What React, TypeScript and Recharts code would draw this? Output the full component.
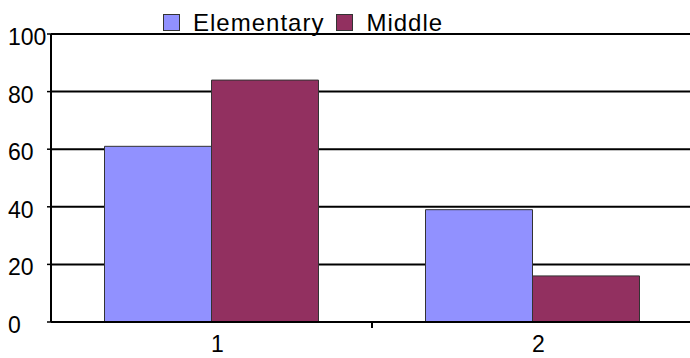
import { BarChart, Bar, XAxis, YAxis, CartesianGrid, Legend } from "recharts";

const categories = ["1", "2"];
const elementary = [61, 39];
const middle = [84, 16];
const yTicks = [0, 20, 40, 60, 80, 100];

const BLUE = "#9191ff";
const MAROON = "#923060";
const FONT = "'Liberation Sans', Arial, sans-serif";

const data = categories.map((c, i) => ({ name: c, Elementary: elementary[i], Middle: middle[i] }));

function YTick({ y, payload }: any) {
  return (
    <text x={8} y={y + 3} dominantBaseline="central" textAnchor="start" fontSize={23} fontFamily={FONT} fill="#000">
      {payload.value}
    </text>
  );
}

function XTick({ x, y, payload, index }: any) {
  const half = payload.offset ?? 160;
  const axisY = y - 8;
  return (
    <g>
      <text x={x + 6} y={axisY + 22} dominantBaseline="central" textAnchor="middle" fontSize={23} fontFamily={FONT} fill="#000">
        {payload.value}
      </text>
      {index < categories.length - 1 && (
        <line x1={x + half} x2={x + half} y1={axisY} y2={axisY + 6} stroke="#000" strokeWidth={2} />
      )}
    </g>
  );
}

function LegendBox({ payload }: any) {
  return (
    <div style={{ display: "flex", alignItems: "center", fontFamily: FONT, fontSize: 24, lineHeight: "24px", letterSpacing: 1, color: "#000" }}>
      {(payload || []).map((p: any) => (
        <span key={p.value} style={{ display: "inline-flex", alignItems: "center", marginRight: 12 }}>
          <span style={{ width: 15, height: 15, background: p.color, border: "1px solid #333", marginRight: 13, marginTop: -2 }} />
          {p.value}
        </span>
      ))}
    </div>
  );
}

export default function App() {
  return (
    <div style={{ position: "absolute", left: 0, top: 0, width: 690, height: 358, overflow: "hidden", background: "#fff" }}>
      <BarChart
        width={700}
        height={358}
        data={data}
        margin={{ top: 34, right: 7, bottom: 0, left: 0 }}
        barCategoryGap="16.67%"
        barGap={0}
      >
        <CartesianGrid vertical={false} stroke="#000" strokeWidth={2} />
        <XAxis
          dataKey="name"
          height={36}
          axisLine={{ stroke: "#000", strokeWidth: 2 }}
          tickLine={false}
          tickSize={6}
          tick={<XTick />}
        />
        <YAxis
          width={51}
          domain={[0, 100]}
          ticks={yTicks}
          axisLine={{ stroke: "#000", strokeWidth: 2 }}
          tickLine={{ stroke: "#000", strokeWidth: 1.5 }}
          tickSize={4}
          tick={<YTick />}
        />
        <Legend
          verticalAlign="middle"
          align="center"
          layout="horizontal"
          wrapperStyle={{ top: 11, left: 163, width: 400, bottom: "auto", right: "auto" }}
          content={<LegendBox />}
        />
        <Bar dataKey="Elementary" fill={BLUE} stroke="#333" strokeWidth={1} isAnimationActive={false} />
        <Bar dataKey="Middle" fill={MAROON} stroke="#333" strokeWidth={1} isAnimationActive={false} />
      </BarChart>
    </div>
  );
}
